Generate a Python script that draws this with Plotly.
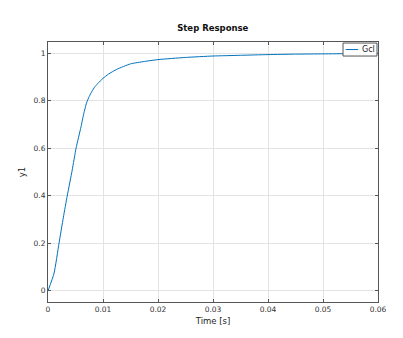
import plotly.graph_objects as go

# Data
time_s = [0, 0.0011, 0.002, 0.0028, 0.0035, 0.0044, 0.0051, 0.006, 0.0065, 0.007,
          0.0075, 0.008, 0.0085, 0.009, 0.0095, 0.01, 0.011, 0.0125, 0.015, 0.0175,
          0.02, 0.025, 0.03, 0.035, 0.04, 0.045, 0.05, 0.055, 0.06]
y1 = [0, 0.074, 0.2, 0.31, 0.4, 0.508, 0.6, 0.69, 0.745, 0.79,
      0.818, 0.84, 0.858, 0.871, 0.883, 0.894, 0.912, 0.932, 0.955, 0.965,
      0.973, 0.982, 0.988, 0.991, 0.994, 0.996, 0.997, 0.998, 0.999]
x_ticks = [0, 0.01, 0.02, 0.03, 0.04, 0.05, 0.06]
x_labels = ["0", "0.01", "0.02", "0.03", "0.04", "0.05", "0.06"]
y_ticks = [0, 0.2, 0.4, 0.6, 0.8, 1]
y_labels = ["0", "0.2", "0.4", "0.6", "0.8", "1"]
series_name = "Gcl"

FONT = "DejaVu Sans"
BLUE = "#0072BD"
FRAME = "#555555"

fig = go.Figure()
fig.add_trace(go.Scatter(x=time_s, y=y1, mode="lines", name=series_name,
                         line=dict(color=BLUE, width=1, shape="spline", smoothing=0.5),
                         showlegend=False))

axis_common = dict(
    showline=True, linecolor=FRAME, linewidth=1, mirror="ticks",
    ticks="inside", ticklen=3, tickcolor=FRAME,
    showgrid=True, gridcolor="#e3e3e3", gridwidth=1,
    zeroline=False, tickfont=dict(family=FONT, size=7.5, color="#333333"),
)

# compact legend box (top-right, inside the axes)
fig.add_shape(type="rect", xref="paper", yref="paper",
              x0=0.894, x1=0.997, y0=0.946, y1=0.996,
              line=dict(color=FRAME, width=1), fillcolor="white", layer="above")
fig.add_shape(type="line", xref="paper", yref="paper",
              x0=0.902, x1=0.94, y0=0.971, y1=0.971,
              line=dict(color=BLUE, width=1), layer="above")
fig.add_annotation(text=series_name, xref="paper", yref="paper",
                   x=0.944, y=0.971, xanchor="left", yanchor="middle",
                   showarrow=False,
                   font=dict(family=FONT, size=8, color="#222222"))

fig.update_layout(
    width=403, height=338,
    margin=dict(l=48, r=25, t=42, b=36),
    paper_bgcolor="white", plot_bgcolor="white",
    title=dict(text="<b>Step Response</b>", x=0.528, xanchor="center",
               y=1 - 28 / 338, yanchor="middle",
               font=dict(family=FONT, size=8.5, color="#111111")),
    xaxis=dict(range=[0, 0.06], tickvals=x_ticks, ticktext=x_labels,
               title=dict(text="Time [s]", standoff=5,
                          font=dict(family=FONT, size=8.5, color="#222222")),
               **axis_common),
    yaxis=dict(range=[-0.047, 1.047], tickvals=y_ticks, ticktext=y_labels,
               title=dict(text="y1", standoff=6,
                          font=dict(family=FONT, size=8.5, color="#222222")),
               **axis_common),
    showlegend=False,
)

fig.write_html("out.html")
